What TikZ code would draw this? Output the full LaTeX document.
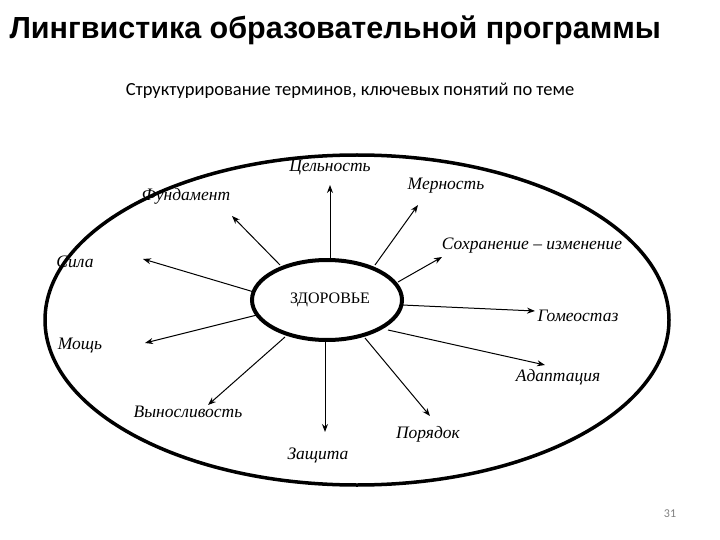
\documentclass[tikz,border=0pt]{standalone}
\usepackage{fontspec}
\setmainfont{Liberation Serif}
\newfontfamily\hdr{Liberation Sans}
\newfontfamily\sub{Carlito}
\usetikzlibrary{arrows.meta,shapes.geometric}
\begin{document}
\begin{tikzpicture}[x=1pt,y=-1pt,
  lab/.style={font=\itshape\fontsize{17.5}{20}\selectfont,inner sep=1pt},
  arr/.style={-{Stealth[length=8pt,width=6pt]},line width=1pt}]
\useasboundingbox (0,0) rectangle (720,540);
\node[font=\hdr\bfseries\fontsize{30.5}{34}\selectfont,anchor=west] (title) at (6,30) {Лингвистика образовательной программы};
\node[font=\sub\fontsize{18.5}{21}\selectfont] (subtitle) at (350,91) {Структурирование терминов, ключевых понятий по теме};
\draw[line width=3.5pt] (357,320) ellipse [x radius=312, y radius=165];
\node[draw,line width=4pt,ellipse,minimum width=150pt,minimum height=80pt,inner sep=0pt] (c) at (327,300) {};
\node[font=\fontsize{16}{18}\selectfont] (cl) at (330,300) {ЗДОРОВЬЕ};
\node[lab] (a1) at (330,168) {Цельность};
\node[lab] (a2) at (446,186) {Мерность};
\node[lab] (a3) at (186,196) {Фундамент};
\node[lab] (a4) at (532,246) {Сохранение – изменение};
\node[lab] (a5) at (75,262) {Сила};
\node[lab] (a6) at (578,316) {Гомеостаз};
\node[lab] (a7) at (80,346) {Мощь};
\node[lab] (a8) at (558,377) {Адаптация};
\node[lab] (a9) at (188,412) {Выносливость};
\node[lab] (a10) at (428,434) {Порядок};
\node[lab] (a11) at (318,455) {Защита};
\coordinate (e1) at (330,185); \coordinate (e2) at (418,205);
\coordinate (e3) at (232,216); \coordinate (e4) at (442,257);
\coordinate (e5) at (143,259); \coordinate (e6) at (535,311);
\coordinate (e7) at (145,343); \coordinate (e8) at (545,365);
\coordinate (e9) at (208,405); \coordinate (e10) at (430,416);
\coordinate (e11) at (325,432);
\coordinate (s1) at (330,260); \coordinate (s2) at (375,265);
\coordinate (s3) at (280,265); \coordinate (s4) at (398,282);
\coordinate (s5) at (254,292); \coordinate (s6) at (402,305);
\coordinate (s7) at (257,315); \coordinate (s8) at (388,330);
\coordinate (s9) at (285,337); \coordinate (s10) at (365,338);
\coordinate (s11) at (325,340);
\foreach \i in {1,...,11} {\draw[arr] (s\i) -- (e\i);}
\node[font=\sub\fontsize{12}{14}\selectfont,text=gray] (pg) at (670,514) {31};
\end{tikzpicture}
\end{document}
